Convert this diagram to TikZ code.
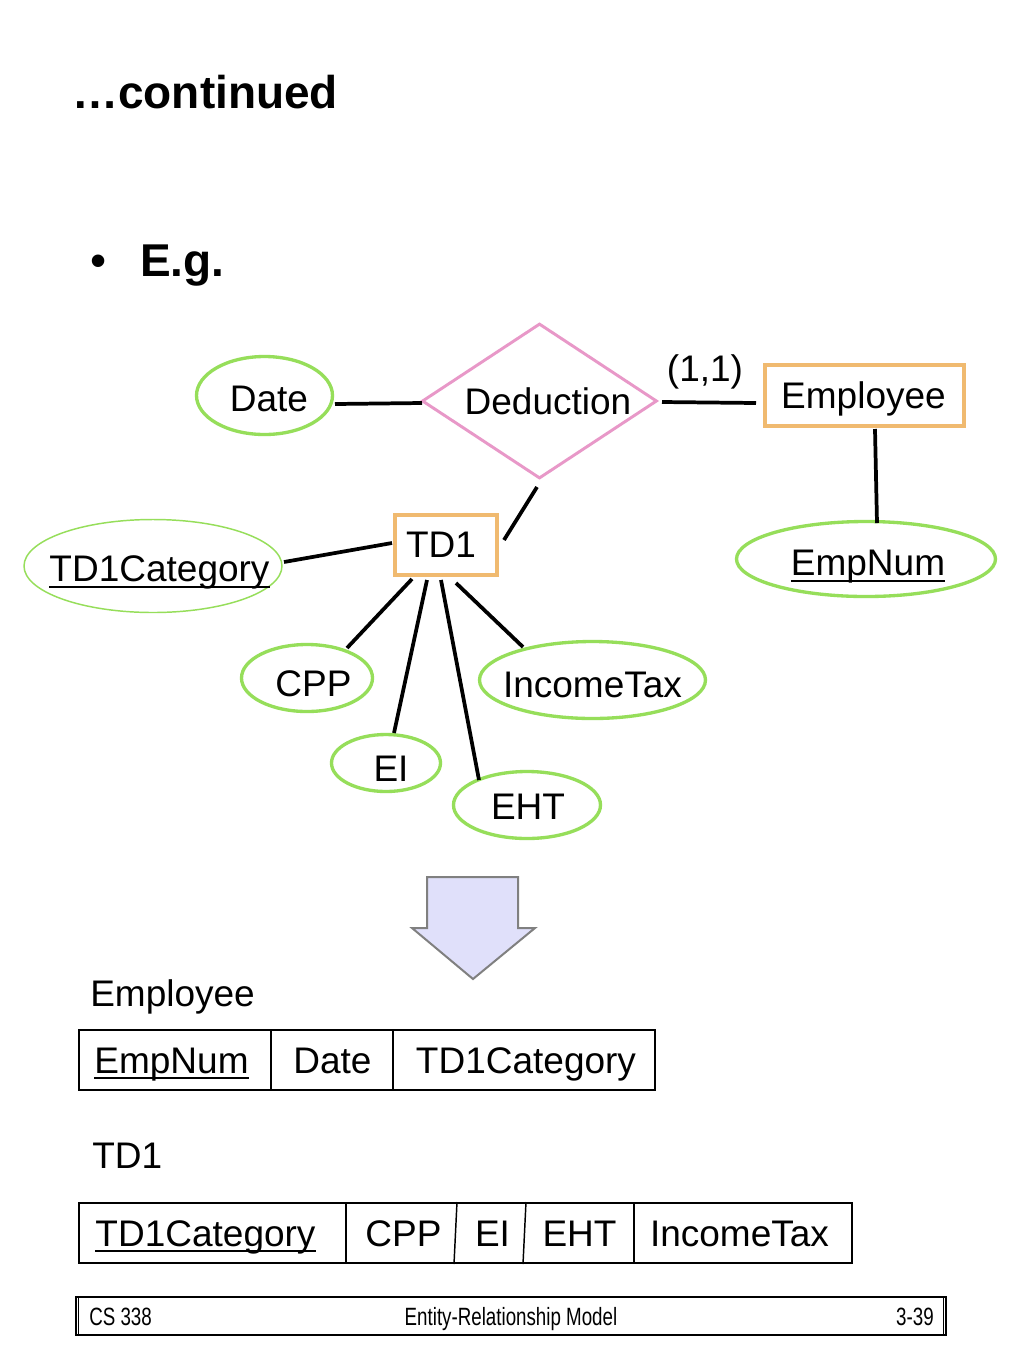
\documentclass[tikz,border=0pt]{standalone}
\usepackage{fontspec}
\setmainfont{Liberation Sans}
\newfontfamily\footfont[FakeStretch=0.75]{Liberation Sans}
\usetikzlibrary{shapes.geometric,calc}
\newlength\pxu \setlength\pxu{0.75pt}
\newsavebox\ulbox
\newcommand\ulx[1]{\sbox\ulbox{#1}\rlap{\rule[-0.17em]{\wd\ulbox}{0.055em}}\usebox\ulbox}
\newcommand\tx[3]{\makebox[0pt]{\hspace*{#1\pxu}\hspace*{#1\pxu}\raisebox{-#2\pxu}{#3}}}
\definecolor{attrgreen}{RGB}{150,222,90}
\definecolor{relpink}{RGB}{232,152,200}
\definecolor{entorange}{RGB}{240,186,112}
\definecolor{arrowfill}{RGB}{224,224,250}
\definecolor{arrowedge}{RGB}{128,128,128}
\tikzset{
  sz/.style 2 args={minimum width=#1*0.75pt, minimum height=#2*0.75pt},
  erfont/.style={font=\fontsize{27.75pt}{33pt}\selectfont},
  attr/.style={ellipse, draw=attrgreen, line width=2.5pt, inner sep=0pt,
    text height=19.9pt, text depth=0pt, erfont},
  thinattr/.style={attr, line width=1.1pt},
  rel/.style={diamond, draw=relpink, line width=2.2pt, inner sep=0pt,
    text height=19.9pt, text depth=0pt, erfont},
  ent/.style={rectangle, draw=entorange, line width=2.6pt, inner sep=0pt,
    text height=19.9pt, text depth=0pt, erfont},
  conn/.style={line width=2.8pt, black},
  txt/.style={inner sep=0pt, erfont},
  titletxt/.style={inner sep=0pt, font=\fontsize{34.5pt}{40pt}\selectfont\bfseries},
  tbl/.style={rectangle, draw=black, line width=1.5pt, inner sep=0pt},
  divline/.style={line width=1.1pt, black},
  foottxt/.style={inner sep=0pt, font=\footfont\fontsize{18.75pt}{22pt}\selectfont},
  bigarrow/.style={line width=1.5pt, draw=arrowedge, fill=arrowfill, line join=miter}
}
\begin{document}
\begin{tikzpicture}[x=0.75pt,y=-0.75pt]
\fill[white] (0,0) rectangle (1024,1365);
\useasboundingbox (0,0) rectangle (1024,1365);

% heading
\node[titletxt, anchor=base west] (title) at (72,108) {…continued};
\node[titletxt, anchor=base west, font=\fontsize{34.5pt}{40pt}\selectfont] (bullet) at (90,276) {•};
\node[titletxt, anchor=base west] (eg) at (140,276) {E.g.};

% ER diagram
\node[attr, sz={136}{78}] (Date) at (264.5,395.5) {\tx{4.5}{3}{Date}};
\node[rel, sz={235}{155}] (Ded) at (539.5,401) {\tx{8.5}{0}{Deduction}};
\node[ent, sz={199}{61}] (Emp) at (864.5,395.5) {\tx{-1}{0}{Employee}};
\node[attr, sz={259}{75}] (EmpNum) at (866,559) {\tx{2}{3.5}{\ulx{EmpNum}}};
\node[ent, sz={102}{60}] (TD1) at (446,545) {\tx{-5}{-1}{TD1}};
\node[thinattr, sz={258}{93}] (TD1Cat) at (153,566) {\tx{6.5}{2}{\ulx{TD1Category}}};
\node[attr, sz={131}{67}] (CPP) at (307,678) {\tx{6.5}{5.5}{CPP}};
\node[attr, sz={109}{57}] (EI) at (386,763) {\tx{5}{5}{EI}};
\node[attr, sz={147}{67}] (EHT) at (527,805) {\tx{1}{1.5}{EHT}};
\node[attr, sz={226}{77}] (ITax) at (592.5,680) {\tx{0}{4}{IncomeTax}};
\node[txt, anchor=base] (card) at (705,381) {(1,1)};

\draw[conn] ($(Date.center)+(70.5,8.5)$) -- ($(Ded.center)+(-117.5,2)$);
\draw[conn] ($(Ded.center)+(122.5,1)$) -- ($(Emp.center)+(-108.5,7.5)$);
\draw[conn] ($(Emp.center)+(10.5,33.5)$) -- ($(EmpNum.center)+(11,-36)$);
\draw[conn] ($(Ded.center)+(-2.5,86)$) -- ($(TD1.center)+(58,-5)$);
\draw[conn] ($(TD1Cat.center)+(131,-4)$) -- ($(TD1.center)+(-54,-2)$);
\draw[conn] ($(TD1.center)+(-34,34)$) -- ($(CPP.center)+(40,-30)$);
\draw[conn] ($(TD1.center)+(-19,35)$) -- ($(EI.center)+(8,-30)$);
\draw[conn] ($(TD1.center)+(-5,35)$) -- ($(EHT.center)+(-48,-25)$);
\draw[conn] ($(TD1.center)+(10,38)$) -- ($(ITax.center)+(-69.5,-33)$);

% big down arrow
\draw[bigarrow] (427,877) -- (518,877) -- (518,928) -- (535,928) -- (473,979) -- (412,928) -- (427,928) -- cycle;

% relation Employee
\node[txt, anchor=base west] (lblEmp) at (90,1006) {Employee};
\node[tbl, sz={576}{60}] (T1) at (367,1060) {};
\draw[divline] ($(T1.north west)+(193,0)$) -- ($(T1.south west)+(193,0)$);
\draw[divline] ($(T1.north west)+(315,0)$) -- ($(T1.south west)+(315,0)$);
\node[txt, anchor=base] (t1a) at (171.5,1073) {\ulx{EmpNum}};
\node[txt, anchor=base] (t1b) at (332.5,1073) {Date};
\node[txt, anchor=base] (t1c) at (526,1073) {TD1Category};

% relation TD1
\node[txt, anchor=base west] (lblTD1) at (92,1168) {TD1};
\node[tbl, sz={773}{60}] (T2) at (465.5,1233) {};
\draw[divline] ($(T2.north west)+(268,0)$) -- ($(T2.south west)+(268,0)$);
\draw[divline] ($(T2.north west)+(379,0)$) -- ($(T2.south west)+(376,0)$);
\draw[divline] ($(T2.north west)+(448,0)$) -- ($(T2.south west)+(445,0)$);
\draw[divline] ($(T2.north west)+(556,0)$) -- ($(T2.south west)+(556,0)$);
\node[txt, anchor=base] (t2a) at (205.5,1246) {\ulx{TD1Category}};
\node[txt, anchor=base] (t2b) at (403.5,1246) {CPP};
\node[txt, anchor=base] (t2c) at (492.5,1246) {EI};
\node[txt, anchor=base] (t2d) at (579.5,1246) {EHT};
\node[txt, anchor=base] (t2e) at (739.5,1246) {IncomeTax};

% footer
\node[tbl, line width=1.4pt, sz={870}{38}] (F) at (511,1316) {};
\draw[line width=1pt] ($(F.north west)+(3.5,0)$) -- ($(F.south west)+(3.5,0)$);
\draw[line width=1pt] ($(F.north east)+(-3.5,0)$) -- ($(F.south east)+(-3.5,0)$);
\node[foottxt, anchor=base west] (f1) at (89,1325) {CS 338};
\node[foottxt, anchor=base] (f2) at (511,1325) {Entity-Relationship Model};
\node[foottxt, anchor=base east] (f3) at (934,1325) {3-39};
\end{tikzpicture}
\end{document}
